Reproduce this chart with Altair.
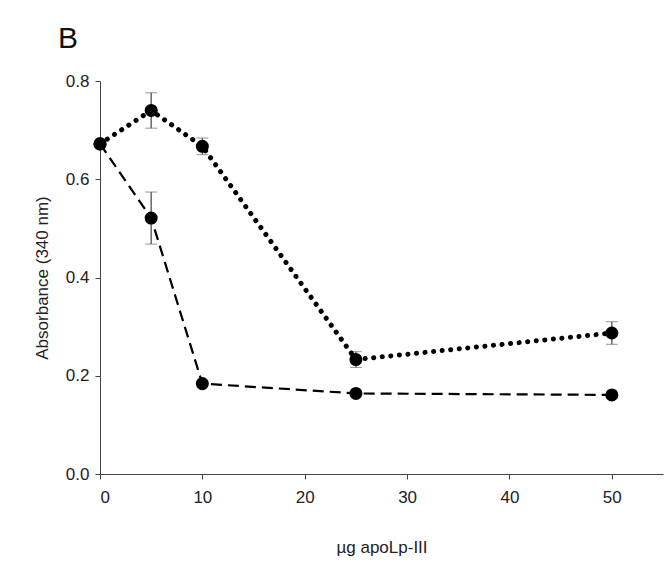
import altair as alt
import pandas as pd

doses = [0, 5, 10, 25, 50]
dotted_vals = [0.672, 0.740, 0.667, 0.233, 0.287]
dotted_err = [0.0, 0.036, 0.017, 0.016, 0.023]
dashed_vals = [0.672, 0.521, 0.184, 0.164, 0.161]
dashed_err = [0.0, 0.053, 0.0, 0.0, 0.0]

rows = []
for d, v, e in zip(doses, dotted_vals, dotted_err):
    rows.append({"dose": d, "abs": v, "lo": v - e, "hi": v + e, "series": "dotted"})
for d, v, e in zip(doses, dashed_vals, dashed_err):
    rows.append({"dose": d, "abs": v, "lo": v - e, "hi": v + e, "series": "dashed"})
df = pd.DataFrame(rows)

FONT = "Liberation Sans"

xs = alt.Scale(domain=[0, 55], nice=False)
ys = alt.Scale(domain=[0, 0.8], nice=False)

x_enc = alt.X("dose:Q", scale=xs, title="µg apoLp-III",
              axis=alt.Axis(values=[0, 10, 20, 30, 40, 50], grid=False, tickSize=5,
                            labelPadding=10, titlePadding=34, domainColor="#444",
                            tickColor="#444", labelFontSize=17, titleFontSize=17,
                            labelColor="#222", titleColor="#222", labelFont=FONT,
                            titleFont=FONT, titleFontWeight="normal"))
y_enc = alt.Y("abs:Q", scale=ys, title="Absorbance (340 nm)",
              axis=alt.Axis(values=[0, 0.2, 0.4, 0.6, 0.8], format=".1f", grid=False,
                            tickSize=5, labelPadding=6, titlePadding=14,
                            domainColor="#444", tickColor="#444", labelFontSize=17,
                            titleFontSize=17, labelColor="#222", titleColor="#222",
                            labelFont=FONT, titleFont=FONT, titleFontWeight="normal"))

base = alt.Chart(df)

dotted_line = base.transform_filter(alt.datum.series == "dotted").mark_line(
    color="black", strokeWidth=5, strokeDash=[0.1, 8.5], strokeCap="round"
).encode(x=x_enc, y=y_enc)

dashed_line = base.transform_filter(alt.datum.series == "dashed").mark_line(
    color="black", strokeWidth=2.2, strokeDash=[11, 6]
).encode(x=x_enc, y=y_enc)

errs = base.transform_filter(alt.datum.hi > alt.datum.lo).mark_errorbar(
    ticks=alt.MarkConfig(size=12, color="#666", strokeWidth=1.5),
    rule=alt.MarkConfig(color="#666", strokeWidth=1.5),
).encode(x=x_enc, y=alt.Y("lo:Q", scale=ys, title="Absorbance (340 nm)"), y2="hi:Q")

pts = base.mark_point(filled=True, color="black", size=170, opacity=1).encode(x=x_enc, y=y_enc)

chart = alt.layer(errs, dotted_line, dashed_line, pts).properties(
    width=563, height=393,
    title=alt.TitleParams("B", anchor="start", frame="group", dx=-42, fontSize=30,
                          fontWeight="normal", font=FONT, color="#111", offset=18),
    autosize=alt.AutoSizeParams(type="none"),
    padding={"left": 92, "top": 73, "right": 1, "bottom": 92},
).configure_view(stroke=None)

chart.save("out.html", embed_options={"renderer": "svg", "actions": False})
